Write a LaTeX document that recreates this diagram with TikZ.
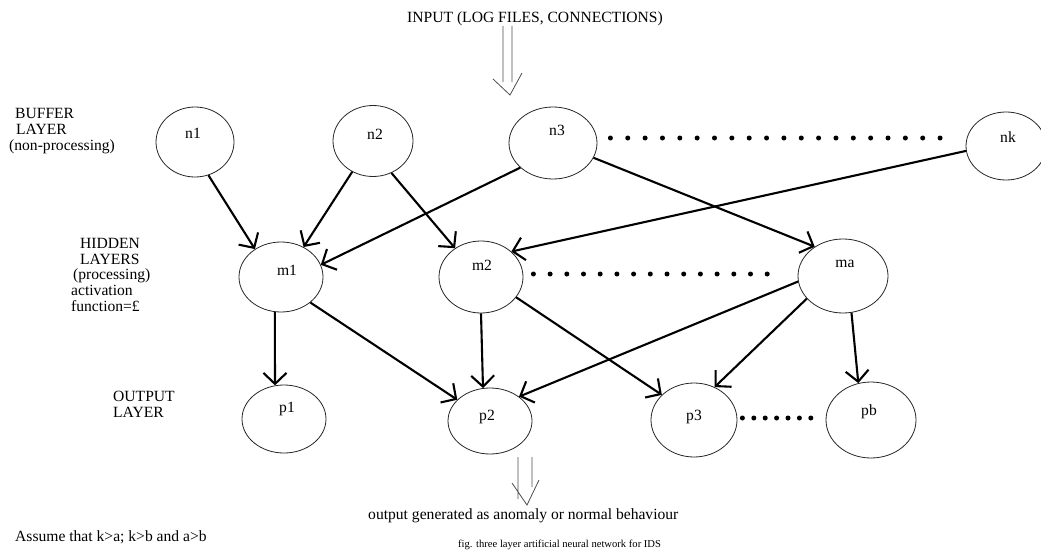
\documentclass[tikz,border=0pt]{standalone}
\usepackage{fontspec}
\setmainfont{Liberation Serif}
\usetikzlibrary{arrows.meta,shapes.geometric}
\newcommand{\ntxt}[3]{\raisebox{#2pt}[0pt][0pt]{\makebox[0pt]{\hspace*{#1pt}\hspace*{#1pt}#3}}}
\begin{document}
\begin{tikzpicture}[x=1pt,y=-1pt,
  neuron/.style={ellipse, draw=black!85, line width=0.8pt, inner sep=0pt, font=\fontsize{15.6}{15.6}\selectfont},
  link/.style={line width=2.1pt, -{Straight Barb[length=11pt,width=23pt,line width=2.1pt]}},
  bigdots/.style={line width=5pt, line cap=round, dash pattern=on 0pt off #1},
  bigdots/.default=17pt,
  lbl/.style={font=\fontsize{15.6}{15.6}\selectfont, inner sep=0pt, align=left, anchor=base west},
  hollow/.style={line width=0.8pt, draw=black!70}]
\useasboundingbox (0,0) rectangle (1041,551);

% buffer layer
\node[neuron, minimum width=78pt, minimum height=70pt] (n1) at (195,142) {\ntxt{-2}{4}{n1}};
\node[neuron, minimum width=80pt, minimum height=71pt] (n2) at (373,141) {\ntxt{2}{2}{n2}};
\node[neuron, minimum width=88pt, minimum height=72pt] (n3) at (553,143) {\ntxt{4}{8}{n3}};
\node[neuron, minimum width=80pt, minimum height=68pt] (nk) at (1006,146) {\ntxt{2}{4}{nk}};
% hidden layer
\node[neuron, minimum width=84pt, minimum height=70pt] (m1) at (281,277) {\ntxt{6}{2}{m1}};
\node[neuron, minimum width=84pt, minimum height=72pt] (m2) at (481,277) {\ntxt{1}{7}{m2}};
\node[neuron, minimum width=90pt, minimum height=74pt] (ma) at (843,276) {\ntxt{2}{9}{ma}};
% output layer
\node[neuron, minimum width=84pt, minimum height=68pt] (p1) at (284,419) {\ntxt{3}{7}{p1}};
\node[neuron, minimum width=84pt, minimum height=66pt] (p2) at (490,421) {\ntxt{-3}{1}{p2}};
\node[neuron, minimum width=86pt, minimum height=74pt] (p3) at (694,420) {\ntxt{0}{0}{p3}};
\node[neuron, minimum width=90pt, minimum height=76pt] (pb) at (871,420) {\ntxt{-2}{5}{pb}};

% connections
\draw[link] (n1.-68) -- (m1.133);
\draw[link] (n2.-124) -- (m1.53);
\draw[link] (n3.-143) -- (m1.17);
\draw[link] (n2.-60) -- (m2.132);
\draw[link] (nk.-173) -- (m2.40);
\draw[link] (n3.-20) -- (ma.134);
\draw[link] (m1.-100) -- (p1.105);
\draw[link] (m1.-41) -- (p2.147);
\draw[link] (m2.-90) -- (p2.102);
\draw[link] (m2.-30) -- (p3.142);
\draw[link] (ma.-173) -- (p2.40);
\draw[link] (ma.-148) -- (p3.58);
\draw[link] (ma.-77) -- (pb.109);

% dotted continuations
\draw[bigdots=17.35pt] ([xshift=13pt,yshift=5pt]n3.east) -- ([xshift=-10pt,yshift=8pt]nk.west);
\draw[bigdots=16.7pt] ([xshift=10pt,yshift=3pt]m2.east) -- ([xshift=-15pt,yshift=2pt]ma.west);
\draw[bigdots=11.4pt] ([xshift=5pt,yshift=2pt]p3.east) -- ([xshift=-4pt,yshift=2pt]pb.west);

% texts
\node[lbl] (inp) at (407,23) {INPUT (LOG FILES, CONNECTIONS)};
\node[lbl] (buf) at (9,150) {\hspace*{6pt}BUFFER\\\hspace*{7pt}LAYER\\(non-processing)};
\node[lbl] (hid) at (71,311) {\hspace*{9pt}HIDDEN\\\hspace*{9pt}LAYERS\\\hspace*{2pt}(processing)\\activation\\function=£};
\node[lbl] (outl) at (113,417) {OUTPUT\\LAYER};
\node[lbl] (res) at (368,519) {output generated as anomaly or normal behaviour};
\node[lbl] (ass) at (15,541) {Assume that k>a; k>b and a>b};
\node[lbl, font=\fontsize{10.6}{11}\selectfont] (cap) at (458,547) {fig. three layer artificial neural network for IDS};

% input / output hollow arrows
\coordinate (ia) at (503,26); \coordinate (ib) at (512,26);
\coordinate (ic) at (503,82); \coordinate (id) at (512,82);
\coordinate (ie) at (493,79); \coordinate (itip) at (510,95); \coordinate (if) at (522,73);
\draw[hollow] (ia) -- (ic) (ib) -- (id) (ie) -- (itip) -- (if);
\coordinate (oa) at (518,457); \coordinate (ob) at (532,457);
\coordinate (oc) at (518,499); \coordinate (od) at (532,487);
\coordinate (oe) at (512,483); \coordinate (otip) at (527,505); \coordinate (of) at (539,480);
\draw[hollow] (oa) -- (oc) (ob) -- (od) (oe) -- (otip) -- (of);
\end{tikzpicture}
\end{document}
